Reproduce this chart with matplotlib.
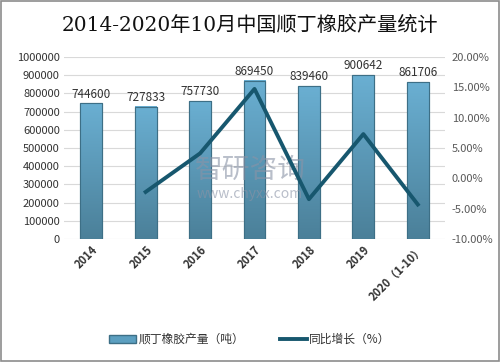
import matplotlib
matplotlib.use('Agg')
import matplotlib.pyplot as plt
import numpy as np
from matplotlib.patches import Rectangle, Patch
from matplotlib.lines import Line2D

plt.rcParams['font.family'] = ['Noto Sans CJK SC', 'DejaVu Sans']

years = ['2014', '2015', '2016', '2017', '2018', '2019', '2020（1-10）']
output = [744600, 727833, 757730, 869450, 839460, 900642, 861706]
growth = [None, -2.25, 4.11, 14.74, -3.45, 7.29, -4.32]

fig = plt.figure(figsize=(5, 3.62), dpi=100)
fig.patches.append(Rectangle((0.002, 0.003), 0.995, 0.993, transform=fig.transFigure,
                             fill=False, edgecolor='#8c8c8c', linewidth=1.2))
ax = fig.add_axes([0.128, 0.34, 0.762, 0.5025])
x = np.arange(len(years))

bars = ax.bar(x, output, width=0.4, color='#5c9fc0', edgecolor='#3d6f86', linewidth=0.8, zorder=2)
# simple vertical gradient on bars
grad = np.linspace(0, 1, 100).reshape(-1, 1)
cmap = matplotlib.colors.LinearSegmentedColormap.from_list('b', ['#4b8099', '#6aafd2'])
for b in bars:
    bx, by, bw, bh = b.get_x(), b.get_y(), b.get_width(), b.get_height()
    ax.imshow(grad, extent=(bx, bx + bw, by, by + bh), origin='lower', cmap=cmap,
              aspect='auto', zorder=2.1)
    ax.add_patch(Rectangle((bx, by), bw, bh, fill=False, edgecolor='#3d6f86', linewidth=0.8, zorder=2.2))
    ax.text(bx + bw / 2, bh + 15000, f'{int(bh)}', ha='center', va='bottom', fontsize=8.5, color='#333333')

ax.set_xlim(-0.5, len(years) - 0.5)
ax.set_ylim(0, 1000000)
ax.set_yticks(np.arange(0, 1000001, 100000))
ax.set_yticklabels([str(v) for v in range(0, 1000001, 100000)], fontsize=8, color='#333333')
ax.set_xticks(x)
ax.set_xticklabels(years, rotation=45, ha='right', rotation_mode='anchor', fontsize=8,
                   color='#333333', fontweight='bold')
ax.grid(axis='y', color='#d9d9d9', linewidth=0.8, zorder=0)
ax.set_axisbelow(True)
for s in ax.spines.values():
    s.set_visible(False)
ax.tick_params(length=0, pad=3)

ax2 = ax.twinx()
gx = [i for i, g in enumerate(growth) if g is not None]
gy = [g for g in growth if g is not None]
ax2.plot(gx, gy, color='#17576e', linewidth=2.8, zorder=5)
ax2.set_ylim(-10, 20)
ax2.set_yticks(np.arange(-10, 21, 5))
ax2.set_yticklabels([f'{v:.2f}%' for v in np.arange(-10, 21, 5)], fontsize=8, color='#595959')
for s in ax2.spines.values():
    s.set_visible(False)
ax2.tick_params(length=0, pad=5)

# watermark, under the line
ax2.text(0.5, 0.53, '智研咨询', fontsize=20, color='#8a93a6', alpha=0.6, ha='center', va='center',
         transform=fig.transFigure, zorder=1)
ax2.text(0.5, 0.465, 'www.chyxx.com', fontsize=10, color='#8a93a6', alpha=0.6, ha='center', va='center',
         transform=fig.transFigure, zorder=1)

fig.text(0.5, 0.93, '2014-2020年10月中国顺丁橡胶产量统计', ha='center', va='center', fontsize=14.5,
         fontweight='medium', color='#111111', family=['DejaVu Serif', 'Noto Sans CJK SC'])

handles = [Patch(facecolor='#5c9fc0', edgecolor='#3d6f86'),
           Line2D([0], [0], color='#17576e', linewidth=2.8)]
fig.legend(handles, ['顺丁橡胶产量（吨）', '同比增长（%）'], loc='center', bbox_to_anchor=(0.5, 0.062),
           ncol=2, frameon=False, fontsize=8.5, handlelength=2.3, handleheight=0.6, columnspacing=3,
           handletextpad=0.2, labelcolor='#333333')

fig.savefig('out.png', dpi=100)
